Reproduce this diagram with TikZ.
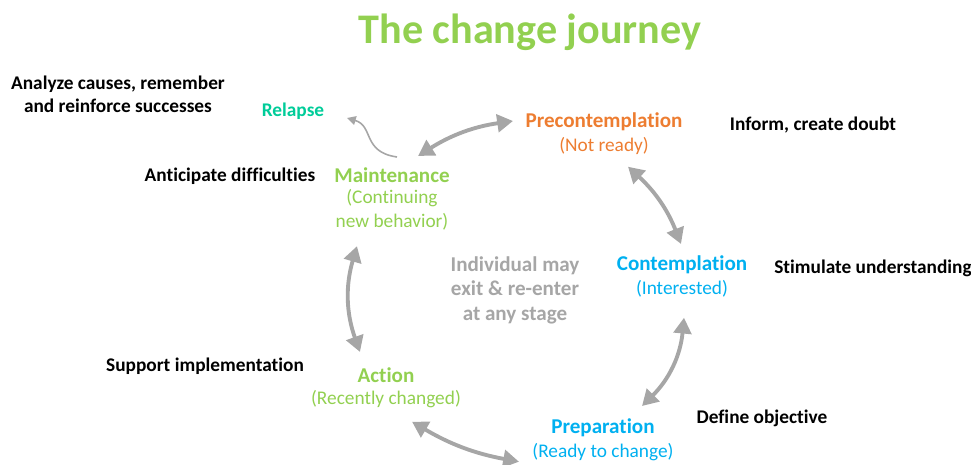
\documentclass[tikz,border=0pt]{standalone}
\usepackage{fontspec}
\setmainfont{Carlito}[Ligatures=NoCommon]
\usepackage{xcolor}
\usetikzlibrary{arrows.meta,positioning}

\definecolor{journeygreen}{RGB}{146,208,80}
\definecolor{preorange}{RGB}{237,125,49}
\definecolor{stageblue}{RGB}{0,176,240}
\definecolor{relapseteal}{RGB}{0,204,153}
\definecolor{cyclegray}{RGB}{166,166,166}

\begin{document}
\begin{tikzpicture}[x=0.02cm,y=-0.02cm,node distance=13.5pt,on grid,
        stage/.style={font=\fontsize{12}{13.5}\selectfont\bfseries,inner sep=0pt},
        sub/.style={font=\fontsize{11}{13.5}\selectfont,inner sep=0pt,align=center},
        advice/.style={font=\fontsize{11}{13}\selectfont\bfseries,inner sep=0pt,align=center},
        cyclearrow/.style={{Triangle[length=9pt,width=10pt]}-{Triangle[length=9pt,width=10pt]},
                draw=cyclegray,line width=2.2pt}]
        \useasboundingbox (0,0) rectangle (971,465);

        \node[font=\fontsize{24}{28}\selectfont\bfseries,text=journeygreen] (title) at (530,32) {The change journey};

        % the five stages
        \node[stage,text=preorange] (precon) at (604,122) {Precontemplation};
        \node[sub,text=preorange] (preconsub) [below=of precon] {(Not ready)};
        \node[stage,text=stageblue] (contemp) at (682,265) {Contemplation};
        \node[sub,text=stageblue] (contempsub) [below=of contemp] {(Interested)};
        \node[stage,text=stageblue] (prep) at (603,428) {Preparation};
        \node[sub,text=stageblue] (prepsub) [below=of prep] {(Ready to change)};
        \node[stage,text=journeygreen] (action) at (386,375) {Action};
        \node[sub,text=journeygreen] (actionsub) [below=of action] {(Recently changed)};
        \node[stage,text=journeygreen] (maint) at (392,175) {Maintenance};
        \node[sub,text=journeygreen] (maintsub) [below=20pt of maint] {(Continuing\\new behavior)};
        \node[stage,text=relapseteal,font=\fontsize{11}{13}\selectfont\bfseries] (relapse) at (293,111) {Relapse};

        \node[advice,text=cyclegray,font=\fontsize{12}{14}\selectfont\bfseries] (exit) at (515,290) {Individual may\\exit \& re-enter\\at any stage};

        % what to do at each stage
        \node[advice] (analyze) at (118,94) {Analyze causes, remember\\and reinforce successes};
        \node[advice] (inform) at (813,125) {Inform, create doubt};
        \node[advice] (stimulate) at (873,268) {Stimulate understanding};
        \node[advice] (define) at (762,418) {Define objective};
        \node[advice] (support) at (205,366) {Support implementation};
        \node[advice] (anticipate) at (230,176) {Anticipate difficulties};

        % cycle arrows
        \draw[cyclearrow] ([shift={(26,-19)}]maint.center) to[bend left=12] ([shift={(-91,-1)}]precon.center);
        \draw[cyclearrow] ([shift={(24,21)}]preconsub.center) to[bend left=13] ([shift={(-1,-21)}]contemp.center);
        \draw[cyclearrow] ([shift={(2,29)}]contempsub.center) to[bend left=20] ([shift={(39,-22)}]prep.center);
        \draw[cyclearrow] ([shift={(-84,10)}]prepsub.center) to[bend left=10] ([shift={(26,23)}]actionsub.center);
        \draw[cyclearrow] ([shift={(-26,-23)}]action.center) to[bend left=18] ([shift={(-35,36)}]maintsub.center);

        \draw[-{Triangle[length=5pt,width=5pt]},cyclegray,line width=0.9pt]
                ([shift={(5,-18)}]maint.center) .. controls (362,152) and (374,126) .. ([shift={(54,7)}]relapse.center);
\end{tikzpicture}
\end{document}
